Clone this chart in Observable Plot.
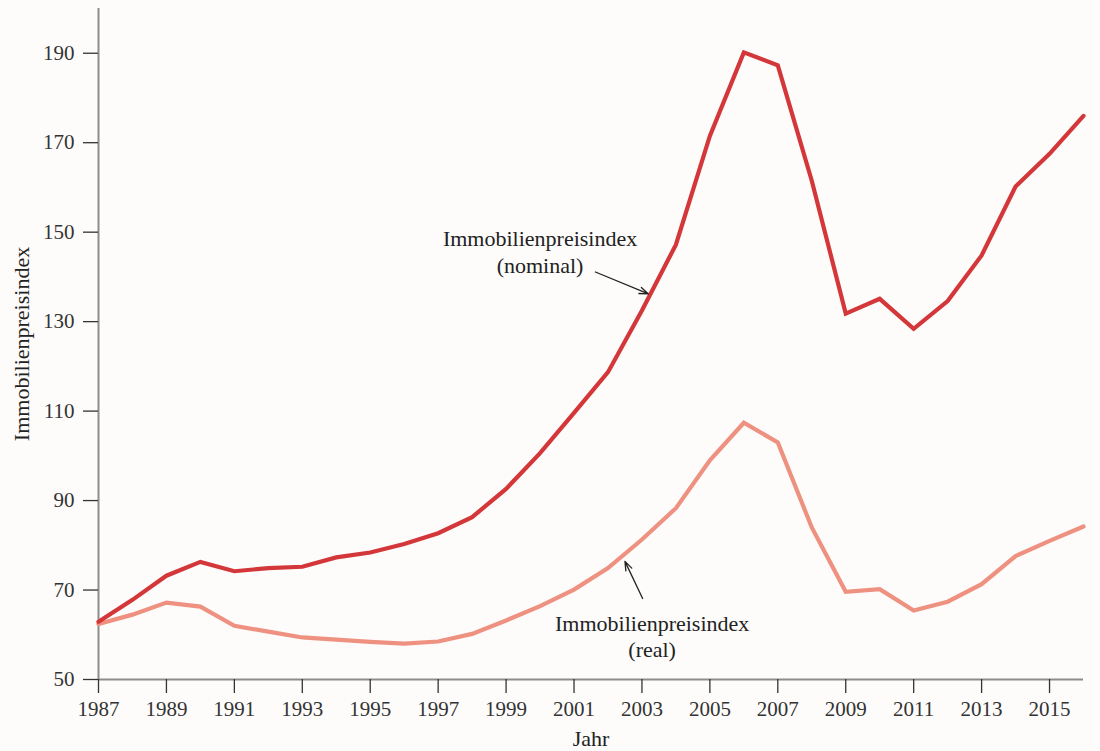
<!DOCTYPE html>
<html>
<head>
<meta charset="utf-8">
<script src="https://cdn.jsdelivr.net/npm/d3@7"></script>
<script src="https://cdn.jsdelivr.net/npm/@observablehq/plot@0.6"></script>
<style>
  html, body { margin: 0; padding: 0; background: #fdfcfa; }
  #chart svg { display: block; }
</style>
</head>
<body>
<div id="chart"></div>
<script>
const years = [1987,1988,1989,1990,1991,1992,1993,1994,1995,1996,1997,1998,1999,2000,2001,2002,2003,2004,2005,2006,2007,2008,2009,2010,2011,2012,2013,2014,2015,2016];
const nominal = [62.9,67.8,73.2,76.3,74.2,74.9,75.2,77.3,78.4,80.3,82.7,86.3,92.6,100.6,109.6,118.7,132.5,147.2,171.5,190.2,187.3,161.5,131.8,135.1,128.4,134.6,144.8,160.2,167.5,176.0];
const real = [62.4,64.5,67.2,66.3,62.0,60.7,59.4,58.9,58.4,58.0,58.5,60.2,63.2,66.4,70.1,74.9,81.3,88.3,99.0,107.4,103.0,84.0,69.6,70.2,65.4,67.4,71.3,77.6,81.0,84.2];
const xTicks = [1987,1989,1991,1993,1995,1997,1999,2001,2003,2005,2007,2009,2011,2013,2015];
const yTicks = [50,70,90,110,130,150,170,190];

const nominalLabel = {x: 2000.0, y: 145.8, text: "Immobilienpreisindex\n(nominal)"};
const realLabel = {x: 2003.3, y: 59.8, text: "Immobilienpreisindex\n(real)"};
const arrows = [
  {x1: 2001.63, y1: 141.1, x2: 2003.19, y2: 136.2},
  {x1: 2003.02, y1: 68.1, x2: 2002.50, y2: 76.4}
];

const nomData = years.map((y, i) => ({year: y, value: nominal[i]}));
const realData = years.map((y, i) => ({year: y, value: real[i]}));

const chart = Plot.plot({
  width: 1100,
  height: 751,
  marginLeft: 98,
  marginRight: 17,
  marginTop: 8,
  marginBottom: 72,
  style: {fontFamily: "Liberation Serif", fontSize: "21px", color: "#333", background: "#fdfcfa"},
  x: {domain: [1987, 2016]},
  y: {domain: [50, 200]},
  marks: [
    Plot.ruleX([1987], {y1: 200, y2: 50, stroke: "#8c8c8c", strokeWidth: 2}),
    Plot.ruleY([50], {stroke: "#8c8c8c", strokeWidth: 2}),
    Plot.axisX({ticks: xTicks, tickFormat: d => String(d), tickSize: 14, tickPadding: 8, label: null, stroke: "#333", fill: "#333", strokeWidth: 1.3}),
    Plot.axisY({ticks: yTicks, tickSize: 15, tickPadding: 9, label: null, stroke: "#333", fill: "#333", strokeWidth: 1.3}),
    Plot.line(realData, {x: "year", y: "value", stroke: "#ee9180", strokeWidth: 4.2, strokeLinejoin: "miter", strokeMiterlimit: 4}),
    Plot.line(nomData, {x: "year", y: "value", stroke: "#d4373a", strokeWidth: 4.2, strokeLinejoin: "miter", strokeMiterlimit: 4}),
    Plot.arrow(arrows, {x1: "x1", y1: "y1", x2: "x2", y2: "y2", stroke: "#222", strokeWidth: 1.3, headLength: 11, headAngle: 40}),
    Plot.text([nominalLabel], {x: "x", y: "y", text: "text", fontSize: 22, lineHeight: 1.2, fill: "#222", letterSpacing: "0.6px"}),
    Plot.text([realLabel], {x: "x", y: "y", text: "text", fontSize: 22, lineHeight: 1.2, fill: "#222", letterSpacing: "0.6px"}),
    Plot.text(["Immobilienpreisindex"], {frameAnchor: "left", textAnchor: "middle", dx: -77, rotate: -90, fontSize: 22, fill: "#222", letterSpacing: "0.4px"}),
    Plot.text(["Jahr"], {frameAnchor: "bottom", dy: 66, fontSize: 22, fill: "#222"})
  ]
});
document.getElementById("chart").appendChild(chart);
</script>
</body>
</html>
